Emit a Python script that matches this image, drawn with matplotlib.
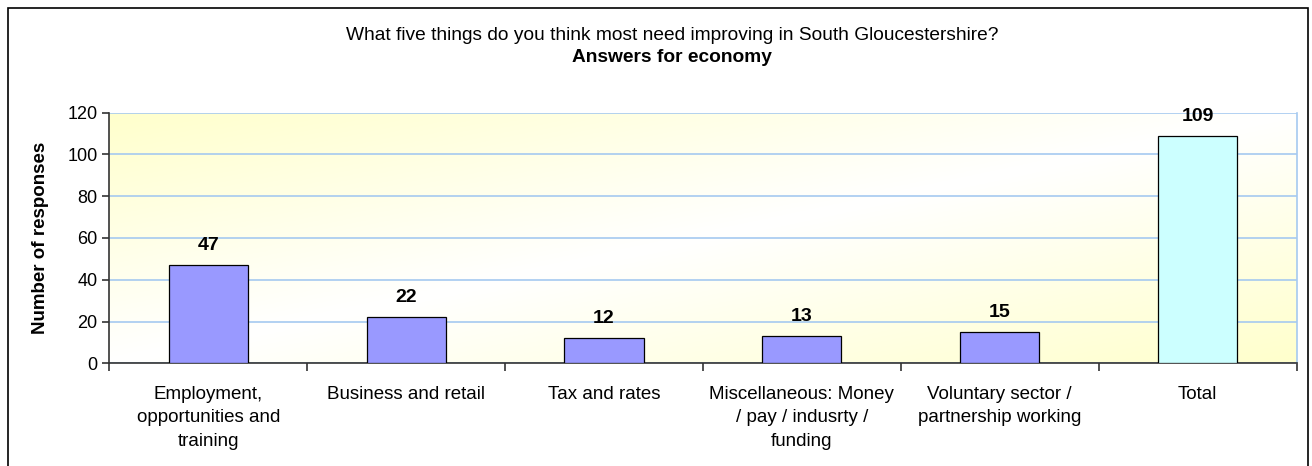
import matplotlib.pyplot as plt
import matplotlib.patches as mpatches
import numpy as np
from matplotlib.colors import LinearSegmentedColormap

plt.rcParams['font.family'] = ['Liberation Sans', 'DejaVu Sans']

# Données
categories = ['Employment,\nopportunities and\ntraining', 'Business and retail',
              'Tax and rates', 'Miscellaneous: Money\n/ pay / indusrty /\nfunding',
              'Voluntary sector /\npartnership working', 'Total']
values = [47, 22, 12, 13, 15, 109]
bar_colors = ['#9999FF', '#9999FF', '#9999FF', '#9999FF', '#9999FF', '#CCFFFF']
yticks = [0, 20, 40, 60, 80, 100, 120]

fig = plt.figure(figsize=(13.12, 4.66), dpi=100)
ax = fig.add_axes([0.0833, 0.2204, 0.9050, 0.5378])

# Cadre extérieur
border = mpatches.Rectangle((8 / 1312, -0.05), 1300 / 1312, 1 - 8 / 466 + 0.05,
                            transform=fig.transFigure, fill=False,
                            edgecolor='black', linewidth=1.2)
fig.patches.append(border)

# Fond dégradé (jaune aux coins haut-gauche / bas-droite, blanc au centre)
n = len(categories)
gx, gy = np.meshgrid(np.linspace(0, 1, 300), np.linspace(0, 1, 150))
grad = np.abs(gx - gy)
cmap = LinearSegmentedColormap.from_list('bg', ['#FFFFFF', '#FFFFCC'])
ax.imshow(grad, extent=[-0.5, n - 0.5, 0, 120], aspect='auto', cmap=cmap,
          origin='lower', zorder=0, vmin=0, vmax=1)

x = np.arange(n)
ax.bar(x, values, width=0.40, color=bar_colors, edgecolor='black', linewidth=0.9, zorder=3)

for xi, v in zip(x, values):
    ax.annotate(str(v), (xi, v), xytext=(0, 14), textcoords='offset points',
                ha='center', va='center', fontsize=14, fontweight='bold', zorder=4)

ax.set_xlim(-0.5, n - 0.5)
ax.set_ylim(0, 120)
ax.set_yticks(yticks)
ax.yaxis.grid(True, color='#A6CAF0', linewidth=1.2, zorder=1)
ax.set_axisbelow(True)

ax.set_xticks(x)
ax.set_xticklabels(categories, fontsize=13.5, va='top', ha='center', linespacing=1.5)
ax.tick_params(axis='x', length=0, pad=16)
ax.set_xticks(np.arange(-0.5, n, 1), minor=True)
ax.tick_params(axis='x', which='minor', length=6, color='#333333', width=1.2)
ax.tick_params(axis='y', labelsize=13, length=5, color='#333333', width=1.2)

for s in ['left', 'bottom']:
    ax.spines[s].set_color('#333333')
    ax.spines[s].set_linewidth(1.2)
ax.spines['top'].set_visible(False)
ax.spines['right'].set_color('#A6CAF0')
ax.spines['right'].set_linewidth(1.2)

ax.set_ylabel('Number of responses', fontsize=13.5, fontweight='bold', labelpad=13)

fig.text(672 / 1312, 1 - 35 / 466, 'What five things do you think most need improving in South Gloucestershire?',
         ha='center', va='center', fontsize=13.8)
fig.text(672 / 1312, 1 - 57 / 466, 'Answers for economy', ha='center', va='center',
         fontsize=13.8, fontweight='bold')

plt.savefig('out.png', dpi=100, facecolor='white')
